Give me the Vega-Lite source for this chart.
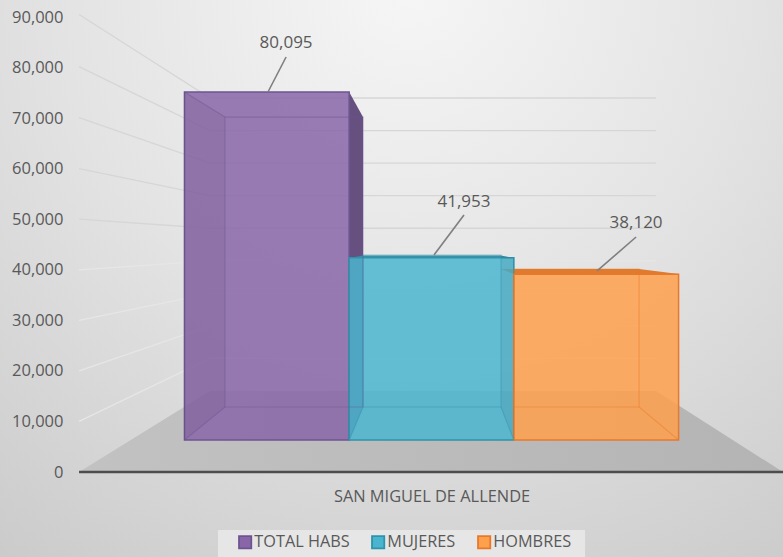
{
"$schema":"https://vega.github.io/schema/vega-lite/v6.json",
"width":783,"height":557,"padding":0,"autosize":{"type":"none"},
"background":"#e0e0e0",
"config":{"view":{"stroke":null},"font":"Open Sans"},
"datasets":{
"bg":[{"s":-1.12,"s2":3.634,"y":93363,"y2":-16813}],
"legendbox":[{"s":0.2036,"s2":2.432,"y":-11472,"y2":-16813}],
"walls":[
{"wall":90000,"s":-0.64,"y":90500},{"wall":90000,"s":0.155,"y":73977},{"wall":90000,"s":2.863,"y":73977},
{"wall":80000,"s":-0.64,"y":80200},{"wall":80000,"s":0.155,"y":67538},{"wall":80000,"s":2.863,"y":67538},
{"wall":70000,"s":-0.64,"y":70100},{"wall":70000,"s":0.155,"y":61098},{"wall":70000,"s":2.863,"y":61098},
{"wall":60000,"s":-0.64,"y":60000},{"wall":60000,"s":0.155,"y":54660},{"wall":60000,"s":2.863,"y":54660},
{"wall":50000,"s":-0.64,"y":50000},{"wall":50000,"s":0.155,"y":48219},{"wall":50000,"s":2.863,"y":48219},
{"wall":40000,"s":-0.64,"y":40000},{"wall":40000,"s":0.155,"y":41780},{"wall":40000,"s":2.863,"y":41780},
{"wall":30000,"s":-0.64,"y":30000},{"wall":30000,"s":0.155,"y":35340},{"wall":30000,"s":2.863,"y":35340},
{"wall":20000,"s":-0.64,"y":20000},{"wall":20000,"s":0.155,"y":28900},{"wall":20000,"s":2.863,"y":28900},
{"wall":10000,"s":-0.64,"y":10000},{"wall":10000,"s":0.155,"y":22460},{"wall":10000,"s":2.863,"y":22460}
],
"floor":[{"s":-0.64,"y":0,"y2":0},{"s":0.155,"y":16022,"y2":0},{"s":2.863,"y":16022,"y2":0},{"s":3.634,"y":0,"y2":0}],
"bars":[
{"series":"TOTAL HABS","value":80095,"s":0,"s2":1,"bs":0.246,"bs2":1.084},
{"series":"MUJERES","value":41953,"s":1,"s2":2,"bs":1.084,"bs2":1.922},
{"series":"HOMBRES","value":38120,"s":2,"s2":3,"bs":2,"bs2":2.76}
],
"faces":[
{"face":"purpleSide","s":1,"y":75165,"y2":6330},{"face":"purpleSide","s":1.084,"y":70219,"y2":12857},
{"face":"orangeTop","s":1.922,"y":40153,"y2":40153},{"face":"orangeTop","s":2,"y":40153,"y2":39164},{"face":"orangeTop","s":2.76,"y":40153,"y2":39164},{"face":"orangeTop","s":3,"y":39164,"y2":39164},
{"face":"tealTop","s":1,"y":42329,"y2":42329},{"face":"tealTop","s":1.084,"y":42824,"y2":42329},{"face":"tealTop","s":1.922,"y":42824,"y2":42329},{"face":"tealTop","s":2,"y":42329,"y2":42329}
],
"shades":[
{"face":"a","s":0,"y":75165,"y2":6330},{"face":"a","s":0.246,"y":70219,"y2":12857},
{"face":"b","s":1.922,"y":42824,"y2":12857},{"face":"b","s":2,"y":42329,"y2":6330}
],
"edges":[
{"edge":"p1","series":"TOTAL HABS","s":0,"y":75165},{"edge":"p1","series":"TOTAL HABS","s":0.246,"y":70219},
{"edge":"p2","series":"TOTAL HABS","s":0,"y":6330},{"edge":"p2","series":"TOTAL HABS","s":0.246,"y":12857},
{"edge":"t1","series":"MUJERES","s":1,"y":6330},{"edge":"t1","series":"MUJERES","s":1.084,"y":12857},
{"edge":"t2","series":"MUJERES","s":1.922,"y":12857},{"edge":"t2","series":"MUJERES","s":2,"y":6330},
{"edge":"o1","series":"HOMBRES","s":2.76,"y":12857},{"edge":"o1","series":"HOMBRES","s":3,"y":6330}
],
"leaders":[
{"bar":"a","s":0.617,"y":82087},{"bar":"a","s":0.507,"y":75165},
{"bar":"b","s":1.697,"y":50835},{"bar":"b","s":1.515,"y":42923},
{"bar":"c","s":2.742,"y":46483},{"bar":"c","s":2.505,"y":39764}
],
"labels":[
{"value":80095,"s":0.617,"y":84854},
{"value":41953,"s":1.697,"y":53404},
{"value":38120,"s":2.742,"y":49250}
],
"baseline":[{"s":-0.64,"s2":3.634,"y":0}],
"category":[{"name":"SAN MIGUEL DE ALLENDE","s":1.503,"y":-4945}]
},
"encoding":{
"x":{"field":"s","type":"quantitative","scale":{"domain":[-1.12,3.634]},"axis":null},
"y":{"field":"y","type":"quantitative","stack":null,"scale":{"domain":[-16813,93363]},"axis":null}
},
"resolve":{"scale":{"y":"independent"}},
"layer":[
{"data":{"name":"bg"},"mark":{"type":"rect","color":{"gradient":"radial","x1":0.52,"y1":0.12,"r1":0,"x2":0.52,"y2":0.12,"r2":0.9,"stops":[{"offset":0,"color":"#f6f6f6"},{"offset":0.5,"color":"#e3e3e3"},{"offset":1,"color":"#cbcbcb"}]}},
 "encoding":{"x2":{"field":"s2"},"y2":{"field":"y2"}}},
{"data":{"name":"walls"},"transform":[{"filter":"datum.wall>=50000"}],"mark":{"type":"line","stroke":"#d6d6d6","strokeWidth":1.3},
 "encoding":{"detail":{"field":"wall"},"order":{"field":"s"},
 "y":{"field":"y","type":"quantitative","scale":{"domain":[-16813,93363]},
 "axis":{"values":[0,10000,20000,30000,40000,50000,60000,70000,80000,90000],"labelExpr":"format(datum.value, ',')","offset":-65,"domain":false,"ticks":false,"grid":false,"title":null,"labelFont":"Open Sans","labelFontSize":16.5,"labelColor":"#595959","labelPadding":2,"zindex":1}}}},
{"data":{"name":"walls"},"transform":[{"filter":"datum.wall<50000"}],"mark":{"type":"line","stroke":"#e6e6e6","strokeWidth":1.3},
 "encoding":{"detail":{"field":"wall"},"order":{"field":"s"}}},
{"data":{"name":"floor"},"mark":{"type":"area","orient":"vertical","color":{"gradient":"linear","x1":0,"y1":0,"x2":1,"y2":0,"stops":[{"offset":0,"color":"#c2c2c2"},{"offset":1,"color":"#b4b4b4"}]}},
 "encoding":{"y2":{"field":"y2"}}},
{"data":{"name":"faces"},"transform":[{"filter":"datum.face=='purpleSide'"}],"mark":{"type":"area","orient":"vertical","color":"#65507f"},"encoding":{"y2":{"field":"y2"}}},
{"data":{"name":"faces"},"transform":[{"filter":"datum.face=='orangeTop'"}],"mark":{"type":"area","orient":"vertical","color":"#de7b2e"},"encoding":{"y2":{"field":"y2"}}},
{"data":{"name":"bars"},"mark":{"type":"rect","fillOpacity":0.85,"strokeWidth":1.5},
 "encoding":{
 "x2":{"field":"s2"},
 "y":{"field":"value","type":"quantitative","scale":{"domain":[-26927,101266]},"axis":null},
 "y2":{"datum":0},
 "color":{"field":"series","type":"nominal","scale":{"domain":["TOTAL HABS","MUJERES","HOMBRES"],"range":["#8966a8","#4bb5cf","#ffa04c"]},
 "legend":{"title":null,"orient":"none","legendX":237,"legendY":534,"direction":"horizontal","columns":3,"symbolType":"square","symbolSize":150,"symbolStrokeWidth":1.8,"symbolOpacity":1,"labelFont":"Open Sans","labelFontSize":16.3,"labelColor":"#595959","labelOffset":1,"columnPadding":18,"padding":0}},
 "stroke":{"field":"series","type":"nominal","scale":{"domain":["TOTAL HABS","MUJERES","HOMBRES"],"range":["#6d5491","#2e93ac","#e9792a"]}}
 }},
{"data":{"name":"faces"},"transform":[{"filter":"datum.face=='tealTop'"}],"mark":{"type":"area","orient":"vertical","color":"#3590a8"},"encoding":{"y2":{"field":"y2"}}},
{"data":{"name":"shades"},"mark":{"type":"area","orient":"vertical","color":"#000000","opacity":0.05},"encoding":{"y2":{"field":"y2"},"detail":{"field":"face"}}},
{"data":{"name":"bars"},"mark":{"type":"rect","fillOpacity":0,"strokeOpacity":0.45,"strokeWidth":1.2},
 "encoding":{
 "x":{"field":"bs","type":"quantitative","scale":{"domain":[-1.12,3.634]},"axis":null},
 "x2":{"field":"bs2"},
 "y":{"field":"value","type":"quantitative","scale":{"domain":[-41436,112431]},"axis":null},
 "y2":{"datum":0},
 "stroke":{"field":"series","type":"nominal","scale":{"domain":["TOTAL HABS","MUJERES","HOMBRES"],"range":["#6d5491","#2e93ac","#e9792a"]}}
 }},
{"data":{"name":"edges"},"mark":{"type":"line","strokeOpacity":0.45,"strokeWidth":1.2},
 "encoding":{"detail":{"field":"edge"},"order":{"field":"s"},
 "stroke":{"field":"series","type":"nominal","scale":{"domain":["TOTAL HABS","MUJERES","HOMBRES"],"range":["#6d5491","#2e93ac","#e9792a"]}}}},
{"data":{"name":"leaders"},"mark":{"type":"line","stroke":"#7f7f7f","strokeWidth":1.6},"encoding":{"detail":{"field":"bar"},"order":{"field":"s"}}},
{"data":{"name":"labels"},"mark":{"type":"text","font":"Open Sans","fontSize":17,"color":"#595959"},"encoding":{"text":{"field":"value","type":"quantitative","format":","}}},
{"data":{"name":"baseline"},"mark":{"type":"rule","stroke":"#4d4d4d","strokeWidth":2.5},"encoding":{"x2":{"field":"s2"}}},
{"data":{"name":"category"},"mark":{"type":"text","font":"Open Sans","fontSize":16.4,"color":"#595959"},"encoding":{"text":{"field":"name"}}},
{"data":{"name":"legendbox"},"mark":{"type":"rect","color":"#e6e6e6"},"encoding":{"x2":{"field":"s2"},"y2":{"field":"y2"}}}
]
}
